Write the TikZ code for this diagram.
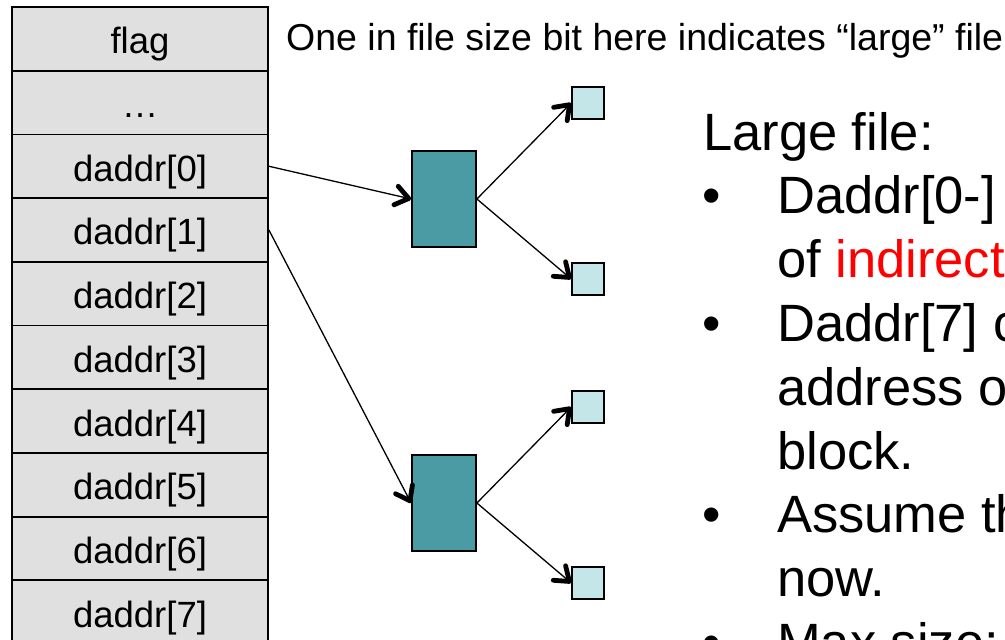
\documentclass[tikz,border=0pt]{standalone}
\usepackage{fontspec}
\setmainfont{Liberation Sans}
\usetikzlibrary{arrows.meta}
\definecolor{cellgray}{RGB}{224,224,224}
\definecolor{darkteal}{RGB}{74,155,163}
\definecolor{lightteal}{RGB}{197,230,232}
\definecolor{hired}{RGB}{255,0,0}
\begin{document}
\begin{tikzpicture}[x=1pt,y=-1pt,
  cell/.style={draw=black, line width=1.8pt, fill=cellgray, minimum width=256pt,
    minimum height=63.7pt, inner sep=0pt, text height=30pt, text depth=0pt,
    font=\fontsize{36.5}{40}\selectfont},
  bigblock/.style={draw=black, line width=1.8pt, fill=darkteal, minimum width=64pt,
    minimum height=96pt, inner sep=0pt},
  smallblock/.style={draw=black, line width=1.6pt, fill=lightteal, minimum width=32pt,
    minimum height=32pt, inner sep=0pt},
  conn/.style={draw=black, line width=1.3pt,
    -{Straight Barb[length=13pt,width=19pt,line width=3.5pt 1,round]}},
  note/.style={font=\fontsize{37.5}{40}\selectfont, anchor=base west, inner sep=0pt},
  big/.style={font=\fontsize{52.5}{63.8}\selectfont, anchor=base west, inner sep=0pt},
  bul/.style={font=\fontsize{52.5}{63.8}\selectfont, anchor=base, inner sep=0pt}]
\useasboundingbox (0,0) rectangle (1005,640);
\clip (0,0) rectangle (1005,640);

% table of the inode
\node[cell] (c0) at (140,38.85) {flag};
\node[cell] (c1) at (140,102.55) {…};
\node[cell] (c2) at (140,166.25) {daddr[0]};
\node[cell] (c3) at (140,229.95) {daddr[1]};
\node[cell] (c4) at (140,293.65) {daddr[2]};
\node[cell] (c5) at (140,357.35) {daddr[3]};
\node[cell] (c6) at (140,421.05) {daddr[4]};
\node[cell] (c7) at (140,484.75) {daddr[5]};
\node[cell] (c8) at (140,548.45) {daddr[6]};
\node[cell] (c9) at (140,612.15) {daddr[7]};

% indirect blocks
\node[bigblock] (ib1) at (444,199) {};
\node[bigblock] (ib2) at (444,503) {};
\node[smallblock] (d1) at (588,103) {};
\node[smallblock] (d2) at (588,279) {};
\node[smallblock] (d3) at (588,407) {};
\node[smallblock] (d4) at (588,583) {};

\draw[conn] (c2.east) -- (ib1.west);
\draw[conn] (c3.east) -- (ib2.west);
\draw[conn] (ib1.east) -- (d1.west);
\draw[conn] (ib1.east) -- (d2.west);
\draw[conn] (ib2.east) -- (d3.west);
\draw[conn] (ib2.east) -- (d4.west);

% texts
\node[note] (n0) at (286,50) {One in file size bit here indicates “large” file};

\node[big] (t0) at (703,150) {Large file:};
\node[bul] (b1) at (712,213.8) {•};
\node[big] (t1) at (777,213.8) {Daddr[0-]};
\node[big] (t2) at (777,277.6) {of \textcolor{hired}{indirect}};
\node[bul] (b2) at (712,341.4) {•};
\node[big] (t3) at (777,341.4) {Daddr[7] c};
\node[big] (t4) at (777,405.2) {address o};
\node[big] (t5) at (777,469) {block.};
\node[bul] (b3) at (712,532.8) {•};
\node[big] (t6) at (777,532.8) {Assume th};
\node[big] (t7) at (777,596.6) {now.};
\node[bul] (b4) at (712,660.4) {•};
\node[big] (t8) at (777,660.4) {Max size:};
\end{tikzpicture}
\end{document}
